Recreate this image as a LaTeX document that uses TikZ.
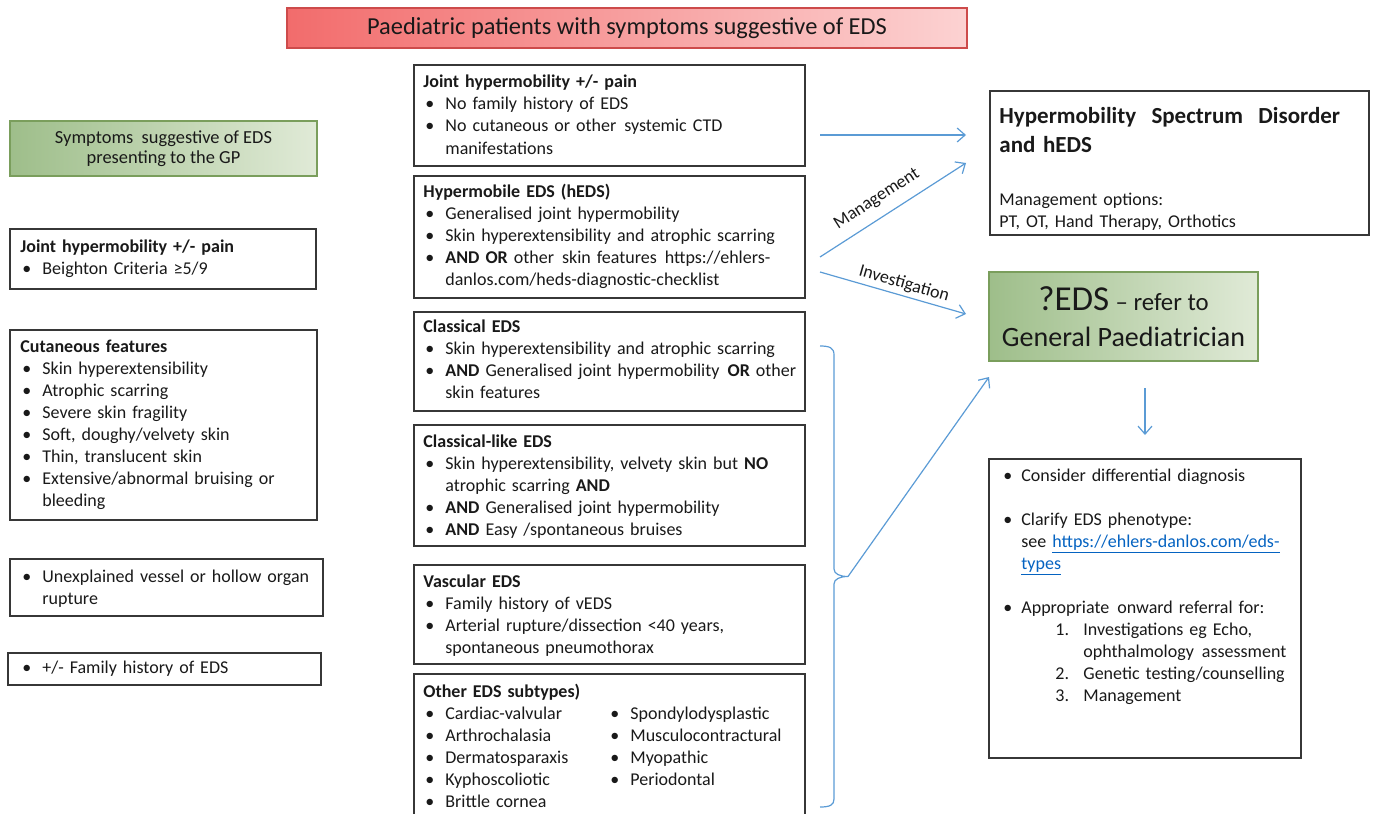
\documentclass[tikz,border=0pt]{standalone}
\usepackage{fontspec}
\setmainfont{Carlito}
\usetikzlibrary{arrows.meta,fit}
\definecolor{arrowblue}{RGB}{91,155,213}
\definecolor{boxgray}{RGB}{55,55,55}
\definecolor{redL}{RGB}{242,108,108}
\definecolor{redR}{RGB}{252,210,210}
\definecolor{redB}{RGB}{205,75,75}
\definecolor{grnL}{RGB}{158,190,138}
\definecolor{grnR}{RGB}{224,234,215}
\definecolor{grnB}{RGB}{122,158,92}
\definecolor{linkblue}{RGB}{5,99,193}
\definecolor{txtc}{RGB}{25,25,25}
\newcommand\bul{\makebox[11pt][l]{\hspace{1pt}•}}
\newcommand\bitem[1]{\par\hangindent=11pt\hangafter=1\noindent\bul #1\par}
\newcommand\bfirst[1]{\hangindent=11pt\hangafter=1\bul #1\par}
\newcommand\rbul{\makebox[9pt][l]{•}}
\newcommand\lnk[1]{\textcolor{linkblue}{\underline{#1}}}
\begin{document}
\begin{tikzpicture}[x=0.5pt,y=-0.5pt,
  box/.style={draw=boxgray, line width=0.7pt, inner sep=0pt},
  rbox/.style={draw=redB, line width=0.7pt, inner sep=0pt, left color=redL, right color=redR},
  gbox/.style={draw=grnB, line width=0.7pt, inner sep=0pt, left color=grnL, right color=grnR},
  txt/.style={anchor=base west, inner sep=0pt, align=left, text=txtc, font=\fontsize{9}{11}\selectfont},
  arr/.style={draw=arrowblue, line width=0.6pt, -{Straight Barb[length=4pt,width=7pt]}},
  lbl/.style={inner sep=0pt, text=txtc, font=\fontsize{9}{11}\selectfont}]
\useasboundingbox (0,0) rectangle (1374,813);
\clip (0,0) rectangle (1374,813);

% title
\node[rbox, fit={(287,8) (967,48)}] (title) {};
\node[inner sep=0pt, text=txtc, font=\fontsize{12.2}{14}\selectfont] (title-t) at (title.center) {Paediatric patients with symptoms suggestive of EDS};

% left column
\node[gbox, fit={(10,121) (317,176)}] (gp) {};
\node[inner sep=0pt, align=center, text=txtc, font=\fontsize{9.2}{10.2}\selectfont] (gp-t) at (gp.center) {Symptoms\ \ suggestive of EDS\\presenting to the GP};

\node[box, fit={(10,229) (316,289)}] (ljh) {};
\node[txt, text width=150pt] (ljh-t) at (20,252) {\textbf{Joint hypermobility +/- pain}\bitem{Beighton Criteria ≥5/9}};

\node[box, fit={(10,330) (317,520)}] (cut) {};
\node[txt, text width=150pt] (cut-t) at (20,352) {\textbf{Cutaneous features}\bitem{Skin hyperextensibility}\bitem{Atrophic scarring}\bitem{Severe skin fragility}\bitem{Soft, doughy/velvety skin}\bitem{Thin, translucent skin}\bitem{Extensive/abnormal bruising or\newline bleeding}};

\node[box, fit={(10,559) (323,616)}] (ves) {};
\node[txt, text width=155pt] (ves-t) at (20,582) {\bfirst{Unexplained vessel or hollow organ\newline rupture}};

\node[box, fit={(8,653) (321,685)}] (fam) {};
\node[txt, text width=155pt] (fam-t) at (20,673) {\bfirst{+/- Family history of EDS}};

% middle column
\node[box, fit={(414,65) (805,166)}] (mjh) {};
\node[txt, text width=200pt] (mjh-t) at (423,88) {\textbf{Joint hypermobility +/- pain}\bitem{No family history of EDS}\bitem{No cutaneous or other\hspace{4pt}systemic CTD\newline manifestations}};

\node[box, fit={(414,176) (805,298)}] (heds) {};
\node[txt, text width=200pt] (heds-t) at (423,197) {\textbf{Hypermobile EDS (hEDS)}\bitem{Generalised joint hypermobility}\bitem{Skin hyperextensibility and atrophic scarring}\bitem{\textbf{AND OR} other\hspace{4pt}skin features\hspace{4pt}https://ehlers-\newline danlos.com/heds-diagnostic-checklist}};

\node[box, fit={(414,312) (805,411)}] (ceds) {};
\node[txt, text width=200pt] (ceds-t) at (423,332) {\textbf{Classical EDS}\bitem{Skin hyperextensibility and atrophic scarring}\bitem{\textbf{AND} Generalised joint hypermobility\hspace{4pt}\textbf{OR} other\newline skin features}};

\node[box, fit={(414,425) (805,546)}] (cl) {};
\node[txt, text width=200pt] (cl-t) at (423,447) {\textbf{Classical-like EDS}\bitem{Skin hyperextensibility, velvety skin but \textbf{NO}\newline atrophic scarring \textbf{AND}}\bitem{\textbf{AND} Generalised joint hypermobility}\bitem{\textbf{AND} Easy /spontaneous bruises}};

\node[box, fit={(414,565) (805,664)}] (veds) {};
\node[txt, text width=200pt] (veds-t) at (423,587) {\textbf{Vascular EDS}\bitem{Family history of vEDS}\bitem{Arterial rupture/dissection <40 years,\newline spontaneous pneumothorax}};

\node[box, fit={(414,674) (805,830)}] (oth) {};
\node[txt, text width=200pt] (oth-t) at (423,697) {\textbf{Other EDS subtypes)}\\
\makebox[92.5pt][l]{\bul Cardiac-valvular}\bul Spondylodysplastic\\
\makebox[92.5pt][l]{\bul Arthrochalasia}\bul Musculocontractural\\
\makebox[92.5pt][l]{\bul Dermatosparaxis}\bul Myopathic\\
\makebox[92.5pt][l]{\bul Kyphoscoliotic}\bul Periodontal\\
\bul Brittle cornea};

% right column
\node[box, fit={(990,91) (1369,235)}] (hsd) {};
\node[txt, text width=185pt, font=\fontsize{11.5}{14.5}\selectfont\bfseries] (hsd-t) at (999,123) {Hypermobility\ \ Spectrum\ \ Disorder\\and hEDS};
\node[txt, text width=185pt] (hsd-m) at (999,205) {Management options:\\PT, OT, Hand Therapy, Orthotics};

\node[gbox, fit={(989,272) (1258,361)}] (eds) {};
\node[inner sep=0pt, align=center, text=txtc, font=\fontsize{14}{18}\selectfont] (eds-t) at (eds.center) {{\fontsize{17.5}{20}\selectfont ?EDS} {\fontsize{12.4}{16}\selectfont – refer to}\\General Paediatrician};

\node[box, fit={(989,459) (1301,758)}] (dd) {};
\node[txt, text width=155pt] (dd-t) at (1003,481) {\rbul Consider differential diagnosis\par
\vspace{11pt}
\hangindent=9pt\hangafter=1\noindent\rbul Clarify EDS phenotype:\newline see \lnk{https://ehlers-danlos.com/eds-}\newline \lnk{types}\par
\vspace{11pt}
\noindent\rbul Appropriate\hspace{4pt}onward referral for:\par
\hangindent=40pt\hangafter=1\noindent\hspace*{26pt}\makebox[14pt][l]{1.}Investigations eg Echo,\newline ophthalmology\hspace{4pt}assessment\par
\noindent\hspace*{26pt}\makebox[14pt][l]{2.}Genetic testing/counselling\par
\noindent\hspace*{26pt}\makebox[14pt][l]{3.}Management\par};

% connectors
\coordinate (a1s) at (820,135);
\coordinate (a1e) at (966,135);
\coordinate (a2s) at (820,257);
\coordinate (a2e) at (966,163);
\coordinate (a3s) at (820,272);
\coordinate (a3e) at (966,314);
\coordinate (bt) at (848,576.5);
\coordinate (a4e) at (989,377);
\coordinate (a5s) at (1145,388);
\coordinate (a5e) at (1145,435);

\draw[arr] (a1s) -- (a1e);
\draw[arr] (a2s) -- (a2e);
\draw[arr] (a3s) -- (a3e);
\draw[arr] (bt) -- (a4e);
\draw[arr] (a5s) -- (a5e);

\node[lbl, rotate=32.8] (mgmt) at (877,199) {Management};
\node[lbl, rotate=-16] (inv) at (904,284) {Investigation};

% brace
\draw[draw=arrowblue, line width=0.6pt] (820,346) .. controls (830,346) and (834,348) .. (834,355) -- (834,569) .. controls (834,574) and (840,576.5) .. (bt) .. controls (840,576.5) and (834,579) .. (834,584) -- (834,799) .. controls (834,805) and (830,807) .. (820,807);
\end{tikzpicture}
\end{document}
